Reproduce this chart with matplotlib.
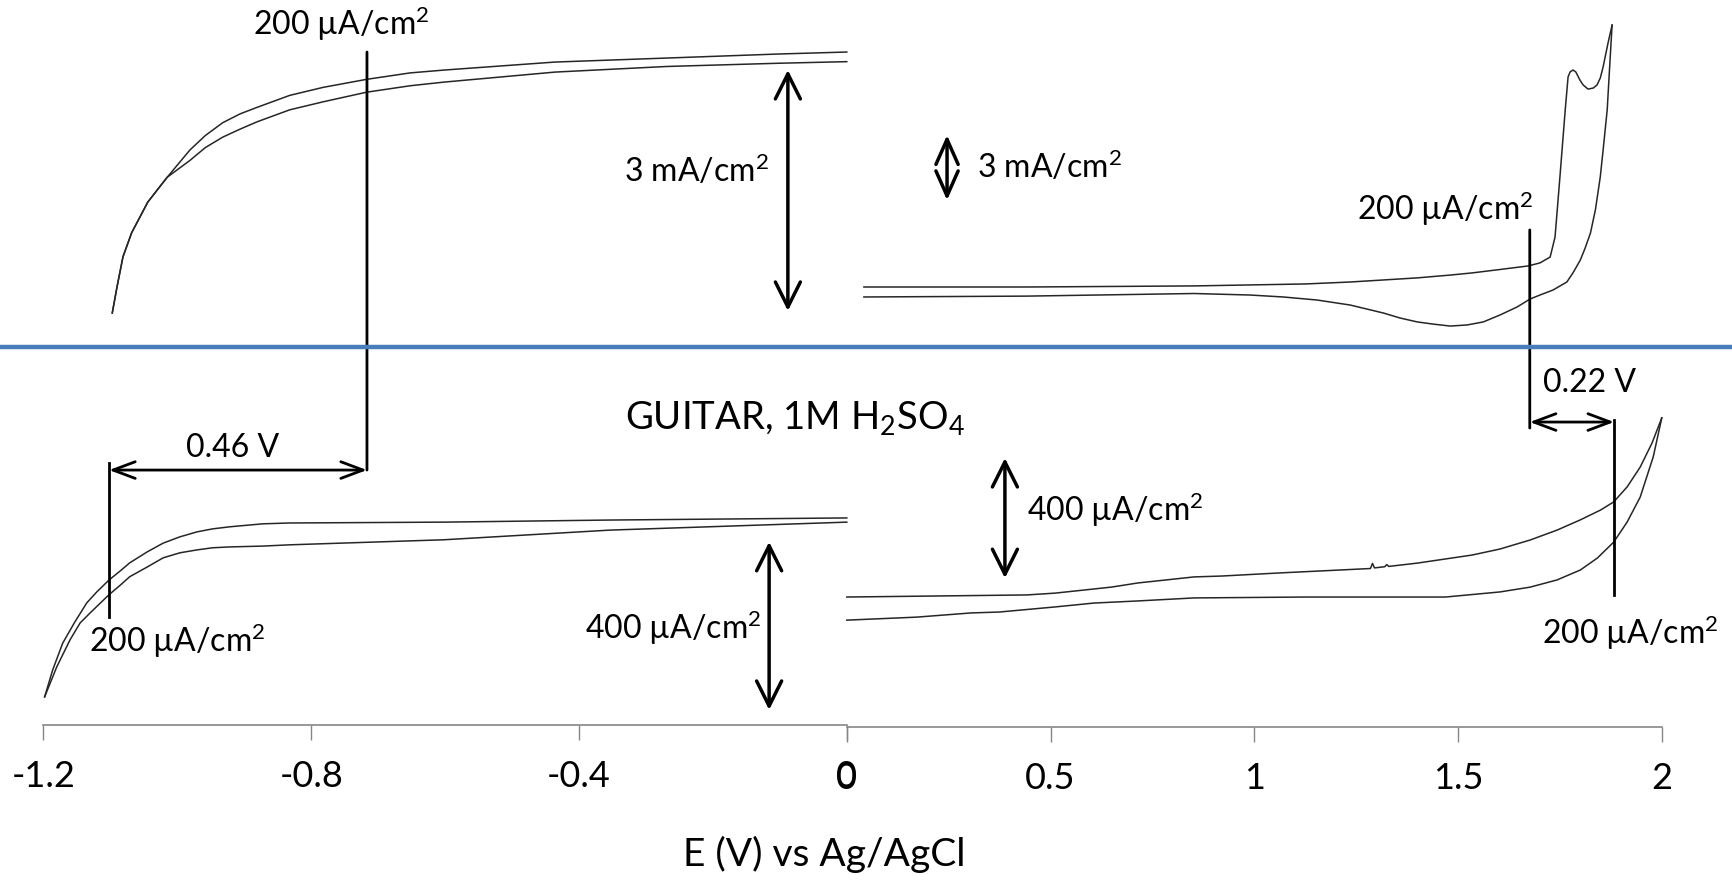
import matplotlib.pyplot as plt
from matplotlib.lines import Line2D
from matplotlib.patches import ConnectionPatch

plt.rcParams['font.family'] = ['Lato', 'DejaVu Sans']
plt.rcParams['mathtext.fontset'] = 'custom'
plt.rcParams['mathtext.rm'] = 'Lato'
plt.rcParams['mathtext.it'] = 'Lato:italic'
plt.rcParams['axes.unicode_minus'] = False

# ---- data: E in V vs Ag/AgCl, j in mA/cm2 (offset to each panel's baseline) ----
# top left: cathodic limit
tl_E = [-1.097, -1.090, -1.081, -1.068, -1.056, -1.044, -1.030, -1.015, -0.981, -0.958, -0.932,
        -0.906, -0.881, -0.832, -0.782, -0.717, -0.652, -0.602, -0.436, -0.269, -0.103, 0.0]
tl_fwd_j = [-3.25, -2.93, -2.55, -2.25, -2.06, -1.87, -1.72, -1.56, -1.22, -1.04, -0.88,
            -0.77, -0.69, -0.54, -0.44, -0.34, -0.26, -0.225, -0.125, -0.075, -0.025, 0.0]
tl_rev_j = [-3.25, -2.93, -2.55, -2.25, -2.06, -1.87, -1.72, -1.56, -1.35, -1.19, -1.06,
            -0.96, -0.87, -0.72, -0.62, -0.50, -0.42, -0.375, -0.25, -0.18, -0.14, -0.12]

# top right: anodic limit with oxide peak
tr_fwd_E = [0.042, 0.442, 0.852, 1.125, 1.235, 1.400, 1.481, 1.535, 1.600, 1.672, 1.701, 1.726,
            1.738, 1.750, 1.763, 1.770, 1.775, 1.782, 1.789, 1.799, 1.807, 1.819, 1.832,
            1.841, 1.849, 1.856, 1.868, 1.878]
tr_fwd_j = [0.0, 0.0, 0.05, 0.14, 0.23, 0.42, 0.55, 0.65, 0.80, 0.97, 1.11, 1.38,
            2.30, 5.07, 8.16, 9.68, 9.91, 10.0, 9.91, 9.54, 9.31, 9.12, 9.17,
            9.31, 9.63, 10.14, 11.24, 12.07]
tr_rev_E = [1.878, 1.873, 1.866, 1.856, 1.849, 1.837, 1.825, 1.812, 1.800, 1.782, 1.767,
            1.733, 1.701, 1.677, 1.645, 1.603, 1.562, 1.522, 1.481, 1.439, 1.400, 1.358,
            1.317, 1.235, 1.154, 1.071, 0.990, 0.852, 0.442, 0.042]
tr_rev_j = [12.07, 10.46, 8.16, 6.31, 5.07, 3.55, 2.49, 1.80, 1.24, 0.65, 0.23,
            -0.14, -0.37, -0.55, -0.92, -1.29, -1.61, -1.75, -1.80, -1.71, -1.61, -1.43,
            -1.20, -0.83, -0.60, -0.46, -0.37, -0.30, -0.42, -0.46]

# bottom left: GUITAR cathodic limit
bl_fwd_E = [-1.198, -1.186, -1.171, -1.153, -1.135, -1.120, -1.102, -1.085, -1.071, -1.045,
            -1.021, -0.996, -0.970, -0.947, -0.921, -0.872, -0.832, -0.602, -0.354, 0.0]
bl_fwd_j = [-0.426, -0.362, -0.298, -0.248, -0.202, -0.176, -0.148, -0.126, -0.107, -0.081,
            -0.060, -0.045, -0.033, -0.026, -0.021, -0.014, -0.012, -0.010, -0.005, 0.0]
bl_rev_E = [-1.198, -1.180, -1.160, -1.145, -1.130, -1.102, -1.085, -1.071, -1.045, -1.021,
            -0.996, -0.970, -0.947, -0.921, -0.872, -0.832, -0.602, -0.354, 0.0]
bl_rev_j = [-0.426, -0.355, -0.290, -0.250, -0.226, -0.183, -0.160, -0.140, -0.117, -0.095,
            -0.083, -0.076, -0.071, -0.069, -0.067, -0.064, -0.052, -0.029, -0.010]

# bottom right: GUITAR anodic limit
br_fwd_E = [0.0, 0.442, 0.511, 0.580, 0.649, 0.715, 0.784, 0.852, 0.921, 1.058, 1.285, 1.290,
            1.295, 1.320, 1.325, 1.330, 1.400, 1.535, 1.603, 1.677, 1.743, 1.800, 1.850,
            1.882, 1.915, 1.947, 1.976, 2.0]
br_fwd_j = [0.0, 0.007, 0.013, 0.023, 0.033, 0.047, 0.057, 0.067, 0.070, 0.080, 0.095, 0.112,
            0.097, 0.101, 0.108, 0.102, 0.113, 0.140, 0.160, 0.190, 0.223, 0.257, 0.290,
            0.317, 0.367, 0.433, 0.513, 0.597]
br_rev_E = [2.0, 1.979, 1.947, 1.915, 1.882, 1.842, 1.800, 1.743, 1.677, 1.603, 1.469,
            1.125, 0.852, 0.715, 0.607, 0.511, 0.374, 0.305, 0.171, 0.0]
br_rev_j = [0.597, 0.467, 0.333, 0.250, 0.183, 0.130, 0.090, 0.057, 0.033, 0.017, 0.0,
            0.0, -0.003, -0.013, -0.020, -0.033, -0.050, -0.053, -0.067, -0.077]

left_ticks = [-1.2, -0.8, -0.4, 0]
left_labels = ['-1.2', '-0.8', '-0.4', '0']
right_ticks = [0, 0.5, 1, 1.5, 2]
right_labels = ['0', '0.5', '1', '1.5', '2']

W, H = 1733, 880
fig = plt.figure(figsize=(W / 100, H / 100), dpi=100)

FS = 23
CURVE = dict(color='#262626', lw=1.1, clip_on=False)
AXCOL = '#868686'


def panel(left, right, top, bottom, xlim, ylim):
    ax = fig.add_axes([left / W, 1 - bottom / H, (right - left) / W, (bottom - top) / H])
    ax.patch.set_visible(False)
    for s in ax.spines.values():
        s.set_visible(False)
    ax.set_xlim(xlim)
    ax.set_ylim(ylim)
    ax.set_yticks([])
    ax.set_xticks([])
    return ax


def scale_bar(ax, x, y_top, length, head=0.45):
    ax.annotate('', xy=(x, y_top - length), xytext=(x, y_top), annotation_clip=False,
                arrowprops=dict(arrowstyle='<->,head_length=0.9,head_width=%s' % head,
                                lw=2.5, color='black', shrinkA=0, shrinkB=0, mutation_scale=20))


def fig_text(x, y, s, ha='center', size=FS):
    fig.text(x / W, 1 - y / H, s, ha=ha, va='center', fontsize=size, color='black')


ax_tl = panel(43.3, 846.8, 0, 347, (-1.2, 0), (-3.674, 0.648))
ax_tr = panel(846.8, 1661.8, 0, 347, (0, 2), (-2.765, 13.226))
ax_bl = panel(43.3, 846.8, 347, 725, (-1.2, 0), (-0.493, 0.407))
ax_br = panel(846.8, 1661.8, 347, 727, (0, 2), (-0.433, 0.833))

ax_tl.plot(tl_E, tl_fwd_j, **CURVE)
ax_tl.plot(tl_E, tl_rev_j, **CURVE)
ax_tr.plot(tr_fwd_E, tr_fwd_j, **CURVE)
ax_tr.plot(tr_rev_E, tr_rev_j, **CURVE)
ax_bl.plot(bl_fwd_E, bl_fwd_j, **CURVE)
ax_bl.plot(bl_rev_E, bl_rev_j, **CURVE)
ax_br.plot(br_fwd_E, br_fwd_j, **CURVE)
ax_br.plot(br_rev_E, br_rev_j, **CURVE)

# x axes on the bottom panels
for ax, ticks, labels in [(ax_bl, left_ticks, left_labels), (ax_br, right_ticks, right_labels)]:
    ax.spines['bottom'].set_visible(True)
    ax.spines['bottom'].set_color(AXCOL)
    ax.spines['bottom'].set_linewidth(1.2)
    ax.set_xticks(ticks)
    ax.set_xticklabels(labels)
    ax.tick_params(axis='x', direction='out', length=11, width=1, color=AXCOL,
                   labelsize=26, pad=14)

# blue separator
fig.add_artist(Line2D([0, 1], [1 - 347 / H, 1 - 347 / H], transform=fig.transFigure,
                      color='#4a7ebb', lw=3.2))

# scale bars
scale_bar(ax_tl, -0.088, -0.224, 3.0)
scale_bar(ax_tr, 0.246, 7.0, 3.0, head=0.4)
scale_bar(ax_bl, -0.116, -0.057, 0.4)
scale_bar(ax_br, 0.388, 0.463, 0.4)

# 200 uA/cm2 markers and onset shifts
LW = 2.0
fig.add_artist(ConnectionPatch(xyA=(-0.7166, 0.0), coordsA=ax_tl.transData,
                               xyB=(-0.7166, 0.114), coordsB=ax_bl.transData,
                               color='black', lw=LW))
fig.add_artist(ConnectionPatch(xyA=(1.676, 2.63), coordsA=ax_tr.transData,
                               xyB=(1.676, 0.563), coordsB=ax_br.transData,
                               color='black', lw=LW))
ax_bl.plot([-1.1018, -1.1018], [0.131, -0.236], color='black', lw=LW, clip_on=False)
ax_br.plot([1.883, 1.883], [0.59, 0.007], color='black', lw=LW, clip_on=False)
ax_bl.annotate('', xy=(-1.1018, 0.114), xytext=(-0.7166, 0.114), annotation_clip=False,
               arrowprops=dict(arrowstyle='<->,head_length=0.8,head_width=0.3',
                               lw=2.0, color='black', shrinkA=0, shrinkB=0, mutation_scale=20))
ax_br.annotate('', xy=(1.676, 0.583), xytext=(1.883, 0.583), annotation_clip=False,
               arrowprops=dict(arrowstyle='<->,head_length=0.8,head_width=0.3',
                               lw=2.0, color='black', shrinkA=0, shrinkB=0, mutation_scale=20))

# labels
fig_text(341, 24, r'200 µA/cm$^2$')
fig_text(769, 171, r'3 mA/cm$^2$', ha='right')
fig_text(977, 167, r'3 mA/cm$^2$', ha='left')
fig_text(1445, 209, r'200 µA/cm$^2$')
fig_text(795, 418, r'GUITAR, 1M H$_2$SO$_4$', size=27.5)
fig_text(233, 448, '0.46 V')
fig_text(89, 641, r'200 µA/cm$^2$', ha='left')
fig_text(761, 628, r'400 µA/cm$^2$', ha='right')
fig_text(1027, 510, r'400 µA/cm$^2$', ha='left')
fig_text(1590, 383, '0.22 V')
fig_text(1630, 633, r'200 µA/cm$^2$')
fig_text(824, 854, 'E (V) vs Ag/AgCl', size=28)

fig.savefig('out.png', dpi=100)
